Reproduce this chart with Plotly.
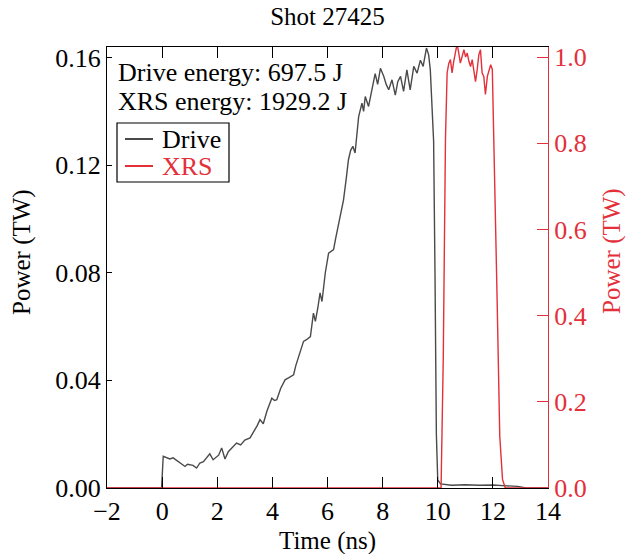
import plotly.graph_objects as go

# ---- data ----
drive_t = [-2, -0.02, 0.04, 0.15, 0.28, 0.4, 0.52, 0.65, 0.83, 0.92, 1.0, 1.12, 1.25, 1.37, 1.5, 1.6,
           1.73, 1.85, 1.95, 2.05, 2.16, 2.28, 2.4, 2.55, 2.7, 2.85, 3.0, 3.19, 3.3, 3.45, 3.55, 3.67,
           3.8, 3.98, 4.08, 4.16, 4.3, 4.46, 4.6, 4.77, 4.85, 4.95, 5.13, 5.25, 5.38, 5.49, 5.56, 5.65,
           5.73, 5.80, 5.92, 6.04, 6.22, 6.3, 6.4, 6.52, 6.58, 6.68, 6.76, 6.84, 6.92, 7.0, 7.05, 7.13,
           7.25, 7.31, 7.37, 7.49, 7.61, 7.73, 7.82, 7.92, 8.04, 8.13, 8.22, 8.34, 8.46, 8.55, 8.65,
           8.76, 8.88, 9.0, 9.13, 9.25, 9.37, 9.47, 9.59, 9.67, 9.73, 9.79, 9.85, 9.9, 9.95, 10.0,
           10.1, 10.5, 11.0, 11.5, 12.0, 12.5, 12.9, 13.2, 14]
drive_p = [0, 0, 0.0118, 0.0112, 0.0108, 0.0112, 0.0103, 0.0095, 0.0080, 0.0088, 0.0087, 0.0084,
           0.0074, 0.0093, 0.0098, 0.0110, 0.0127, 0.0105, 0.0112, 0.0122, 0.0149, 0.0108, 0.0135,
           0.0150, 0.0167, 0.0160, 0.0178, 0.0186, 0.0205, 0.0232, 0.0254, 0.0239, 0.0285, 0.0334,
           0.0325, 0.0328, 0.0370, 0.0402, 0.0410, 0.0421, 0.0455, 0.0489, 0.0545, 0.0552, 0.0563,
           0.0650, 0.0619, 0.0670, 0.0725, 0.0693, 0.0800, 0.0873, 0.0886, 0.0930, 0.0985, 0.1047,
           0.1070, 0.1150, 0.1220, 0.1255, 0.1270, 0.1245, 0.1300, 0.1380, 0.1430, 0.1400, 0.1455,
           0.1418, 0.1480, 0.1540, 0.1500, 0.1560, 0.1530, 0.1500, 0.1480, 0.1517, 0.1460, 0.1510,
           0.1530, 0.1474, 0.1554, 0.1480, 0.1567, 0.1542, 0.1590, 0.1567, 0.1635, 0.1610, 0.1554,
           0.1420, 0.1290, 0.0800, 0.0200, 0.0030, 0.0015, 0.0010, 0.0012, 0.0010, 0.0011, 0.0008,
           0.0006, 0.0, 0]

xrs_t = [-2, 10.12, 10.2, 10.28, 10.34, 10.4, 10.46, 10.52, 10.58, 10.64, 10.7, 10.76, 10.82, 10.88,
         10.95, 11.01, 11.07, 11.13, 11.19, 11.25, 11.31, 11.37, 11.43, 11.49, 11.55, 11.61, 11.67,
         11.73, 11.8, 11.86, 11.92, 11.98, 12.04, 12.15, 12.25, 12.35, 12.45, 14]
xrs_p = [0, 0, 0.3, 0.81, 0.963, 0.985, 0.994, 0.963, 0.99, 1.009, 1.03, 1.01, 0.986, 1.0, 1.017,
         1.0, 1.009, 0.99, 0.978, 0.994, 0.97, 0.943, 0.97, 1.005, 1.017, 0.963, 0.955, 0.913,
         0.955, 0.97, 0.982, 0.971, 0.808, 0.45, 0.12, 0.02, 0.0, 0]

x_ticks = [-2, 0, 2, 4, 6, 8, 10, 12, 14]
y1_ticks = [0.00, 0.04, 0.08, 0.12, 0.16]
y2_ticks = [0.0, 0.2, 0.4, 0.6, 0.8, 1.0]

RED = "#e3303a"
DARK = "#4a4a4a"
FONT = "Liberation Serif"

W, H = 626, 554
L, R, T, B = 107, 78, 47, 66
PW, PH = W - L - R, H - T - B


def px(x):
    return (x - L) / PW


def py(y):
    return (H - B - y) / PH


fig = go.Figure()
fig.add_trace(go.Scatter(x=drive_t, y=drive_p, mode="lines", name="Drive",
                         line=dict(color=DARK, width=1.4)))
fig.add_trace(go.Scatter(x=xrs_t, y=xrs_p, mode="lines", yaxis="y2", name="XRS",
                         line=dict(color=RED, width=1.4)))

fig.update_layout(
    width=W, height=H,
    margin=dict(l=L, r=R, t=T, b=B),
    paper_bgcolor="white", plot_bgcolor="white",
    font=dict(family=FONT, size=26, color="black"),
    showlegend=False,
    title=dict(text="Shot 27425", x=0.5, xref="paper", y=1 - 16 / H, yanchor="middle",
               font=dict(family=FONT, size=25, color="black")),
    xaxis=dict(range=[-2, 14], tickvals=x_ticks, ticks="inside", ticklen=11, tickcolor="black",
               showline=True, linecolor="black", linewidth=1.2, mirror="ticks",
               showgrid=False, zeroline=False, automargin=False),
    yaxis=dict(range=[0, 0.1639], tickvals=y1_ticks, tickformat=".2f", ticks="inside", ticklen=5,
               tickcolor="black", showline=True, linecolor="black", linewidth=1.2,
               showgrid=False, zeroline=False, automargin=False),
    yaxis2=dict(range=[0, 1.0232], tickvals=y2_ticks, tickformat=".1f", overlaying="y", side="right",
                ticks="inside", ticklen=11, tickcolor=RED, showline=True, linecolor=RED, linewidth=1.2,
                showgrid=False, zeroline=False, tickfont=dict(color=RED), automargin=False),
)

ann = dict(xref="paper", yref="paper", showarrow=False)
# axis titles
fig.add_annotation(text="Time (ns)", x=px(327), y=py(541), xanchor="center", yanchor="middle",
                   font=dict(size=25), **ann)
fig.add_annotation(text="Power (TW)", x=px(22), y=py(252), xanchor="center", yanchor="middle",
                   textangle=-90, font=dict(size=25), **ann)
fig.add_annotation(text="Power (TW)", x=px(612), y=py(251), xanchor="center", yanchor="middle",
                   textangle=-90, font=dict(size=25, color=RED), **ann)
# energy labels
fig.add_annotation(text="Drive energy: 697.5 J", x=px(116), y=py(72), xanchor="left",
                   yanchor="middle", font=dict(size=26), **ann)
fig.add_annotation(text="XRS energy: 1929.2 J", x=px(116), y=py(102), xanchor="left",
                   yanchor="middle", font=dict(size=26), **ann)

# legend box
fig.add_shape(type="rect", xref="paper", yref="paper", x0=px(117), x1=px(229), y0=py(123), y1=py(182),
              line=dict(color="black", width=1.2), fillcolor="white", layer="above")
legend_items = [("Drive", DARK, "black", 139), ("XRS", RED, RED, 166)]
for name, lc, tc, yy in legend_items:
    fig.add_shape(type="line", xref="paper", yref="paper", x0=px(125), x1=px(153), y0=py(yy), y1=py(yy),
                  line=dict(color=lc, width=2), layer="above")
    fig.add_annotation(text=name, x=px(160), y=py(yy), xanchor="left", yanchor="middle",
                       font=dict(size=26, color=tc), **ann)

fig.write_html("out.html")
